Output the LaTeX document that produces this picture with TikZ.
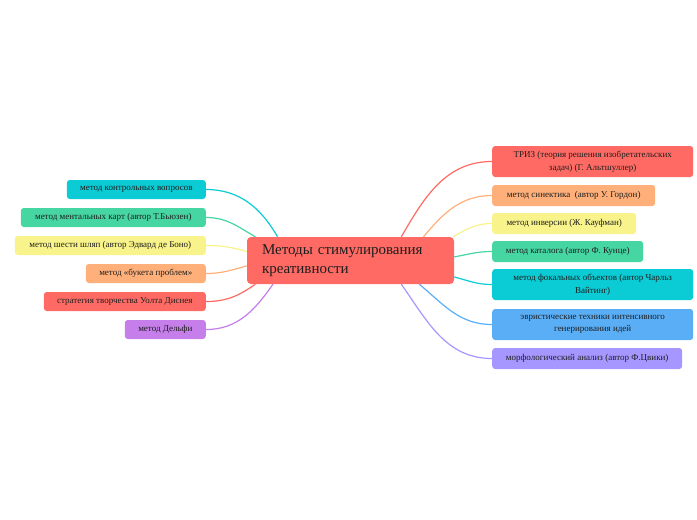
\documentclass[tikz,border=0pt]{standalone}
\usepackage{fontspec}
\setmainfont{Liberation Serif}
\usetikzlibrary{backgrounds}

\definecolor{cred}{HTML}{FF6B64}
\definecolor{corange}{HTML}{FFB07A}
\definecolor{cyellow}{HTML}{F8F38A}
\definecolor{cgreen}{HTML}{45D6A2}
\definecolor{cteal}{HTML}{0BCBD4}
\definecolor{cblue}{HTML}{5AAEF5}
\definecolor{cviolet}{HTML}{A597FF}
\definecolor{cpurple}{HTML}{C57EEA}
\definecolor{ctext}{HTML}{1E1E1E}

\begin{document}
\begin{tikzpicture}[x=1pt, y=-1pt,
  root/.style={fill=cred, rounded corners=4pt, minimum width=207pt, minimum height=47pt, text width=177pt, align=left, font=\fontsize{15}{19}\selectfont, text=ctext, inner sep=0pt},
  lbox/.style={anchor=east, rounded corners=3pt, minimum height=19pt, inner sep=0pt, font=\fontsize{9}{11}\selectfont, text=ctext},
  rbox/.style={anchor=west, rounded corners=3pt, minimum height=21pt, inner sep=0pt, align=center, font=\fontsize{9}{12.5}\selectfont, text=ctext},
  link/.style={line width=1.2pt}
]
\useasboundingbox (0,0) rectangle (697,520);

\node[root] (root) at (350.5,260.5) {Методы стимулирования\\креативности};

% right side
\node[rbox, fill=cred, minimum width=201pt, minimum height=31pt] (triz) at (492,161.5) {ТРИЗ (теория решения изобретательских\\задач) (Г. Альтшуллер)};
\node[rbox, fill=corange, minimum width=163pt] (sinekt) at (492,195.5) {метод синектика\ \ (автор У. Гордон)};
\node[rbox, fill=cyellow, minimum width=144pt] (invers) at (492,223.5) {метод инверсии (Ж. Кауфман)};
\node[rbox, fill=cgreen, minimum width=151pt] (catalog) at (492,251.5) {метод каталога (автор Ф. Кунце)};
\node[rbox, fill=cteal, minimum width=201pt, minimum height=31pt] (focal) at (492,284.5) {метод фокальных объектов (автор Чарльз\\Вайтинг)};
\node[rbox, fill=cblue, minimum width=201pt, minimum height=31pt] (heur) at (492,324.5) {эвристические техники интенсивного\\генерирования идей};
\node[rbox, fill=cviolet, minimum width=190pt] (morph) at (492,358.5) {морфологический анализ (автор Ф.Цвики)};

% left side
\node[lbox, fill=cteal, minimum width=139pt] (control) at (206,189.5) {метод контрольных вопросов};
\node[lbox, fill=cgreen, minimum width=185pt] (mental) at (206,217.5) {метод ментальных карт (автор Т.Бьюзен)};
\node[lbox, fill=cyellow, minimum width=191pt] (hats) at (206,245.5) {метод шести шляп (автор Эдвард де Боно)};
\node[lbox, fill=corange, minimum width=120pt] (bouquet) at (206,273.5) {метод «букета проблем»};
\node[lbox, fill=cred, minimum width=162pt] (disney) at (206,301.5) {стратегия творчества Уолта Диснея};
\node[lbox, fill=cpurple, minimum width=81pt] (delphi) at (206,329.5) {метод Дельфи};

\begin{pgfonlayer}{background}
\draw[link, cred] (triz.west) to[out=180, in=60] (root.25);
\draw[link, corange] (sinekt.west) to[out=180, in=50] (root.18);
\draw[link, cyellow] (invers.west) to[out=180, in=30] (root.13);
\draw[link, cgreen] (catalog.west) to[out=180, in=10] (root.2);
\draw[link, cteal] (focal.west) to[out=180, in=-15] (root.-9);
\draw[link, cblue] (heur.west) to[out=180, in=-40] (root.-19);
\draw[link, cviolet] (morph.west) to[out=180, in=-55] (root.-25);

\draw[link, cteal] (control.east) to[out=0, in=120] (root.162);
\draw[link, cgreen] (mental.east) to[out=0, in=150] (root.166);
\draw[link, cyellow] (hats.east) to[out=0, in=165] (root.175);
\draw[link, corange] (bouquet.east) to[out=0, in=195] (root.183);
\draw[link, cred] (disney.east) to[out=0, in=215] (root.194);
\draw[link, cpurple] (delphi.east) to[out=0, in=235] (root.197);
\end{pgfonlayer}

\end{tikzpicture}
\end{document}
